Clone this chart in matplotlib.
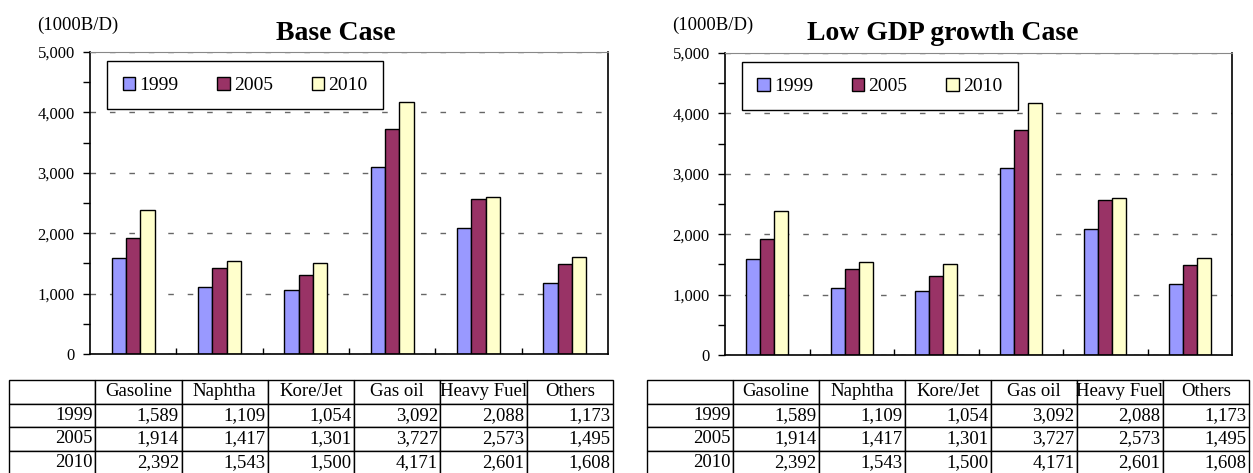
import matplotlib.pyplot as plt
import numpy as np
from matplotlib.ticker import FuncFormatter, MultipleLocator

plt.rcParams['font.family'] = ['Liberation Serif', 'DejaVu Serif']

# Oil product demand (1000 B/D)
products = ['Gasoline', 'Naphtha', 'Kore/Jet', 'Gas oil', 'Heavy Fuel', 'Others']
years = ['1999', '2005', '2010']
base_1999 = [1589, 1109, 1054, 3092, 2088, 1173]
base_2005 = [1914, 1417, 1301, 3727, 2573, 1495]
base_2010 = [2392, 1543, 1500, 4171, 2601, 1608]
lowgdp_1999 = [1589, 1109, 1054, 3092, 2088, 1173]
lowgdp_2005 = [1914, 1417, 1301, 3727, 2573, 1495]
lowgdp_2010 = [2392, 1543, 1500, 4171, 2601, 1608]
bar_colors = ['#9999FF', '#993366', '#FFFFCC']

W, H = 1253, 473


def px_rect(x0, y0, x1, y1):
    return [x0 / W, 1 - y1 / H, (x1 - x0) / W, (y1 - y0) / H]


def draw_case(fig, plot_box, table_box, title, title_x, unit_x, series):
    ax = fig.add_axes(px_rect(*plot_box))
    x = np.arange(len(products)) + 0.5
    w = 1 / 6
    for i, (yr, vals) in enumerate(zip(years, series)):
        ax.bar(x + (i - 1) * w, vals, width=w, color=bar_colors[i],
               edgecolor='black', linewidth=1.0, label=yr, zorder=2)

    ax.set_xlim(0, len(products))
    ax.set_ylim(0, 5000)
    ax.set_axisbelow(True)

    # y axis: labels every 1000, ticks every 500
    ax.yaxis.set_major_locator(MultipleLocator(1000))
    ax.yaxis.set_minor_locator(MultipleLocator(500))
    ax.yaxis.set_major_formatter(FuncFormatter(lambda v, p: f'{int(v):,}'))
    ax.tick_params(axis='y', which='both', direction='out', length=5,
                   width=1, labelsize=12, pad=6)

    # x axis: inward ticks between product groups, no labels
    ax.set_xticks(np.arange(1, len(products)))
    ax.tick_params(axis='x', direction='in', length=4, width=1,
                   labelbottom=False)

    ax.yaxis.grid(True, which='major', color='#666666',
                  linestyle=(0, (4, 10)), linewidth=1.0)
    for side in ['left', 'bottom', 'right']:
        ax.spines[side].set_linewidth(1.2)
    ax.spines['top'].set_color('#888888')

    leg = ax.legend(loc='upper left', bbox_to_anchor=(0.033, 0.97), ncol=3,
                    fontsize=14, frameon=True, fancybox=False, framealpha=1,
                    edgecolor='black', borderpad=0.8, handlelength=0.65,
                    handleheight=0.65, handletextpad=0.2, columnspacing=2.0,
                    borderaxespad=0)
    leg.get_frame().set_linewidth(1.0)

    fig.text(title_x / W, 1 - 33 / H, title, ha='center', va='center',
             fontsize=20, fontweight='bold')
    fig.text(unit_x / W, 1 - 25 / H, '(1000B/D)', ha='left', va='center',
             fontsize=13.5)

    # data table under the chart
    tax = fig.add_axes(px_rect(*table_box))
    tax.axis('off')
    cells = [[''] + products]
    for yr, vals in zip(years, series):
        cells.append([yr] + [f'{v:,}' for v in vals])
    tbl = tax.table(cellText=cells, cellLoc='right', bbox=[0, 0, 1, 1])
    tbl.auto_set_font_size(False)
    tbl.set_fontsize(13.5)
    for (r, c), cell in tbl.get_celld().items():
        cell.set_linewidth(1.0)
        cell.PAD = 0.03
        if r == 0:
            cell._loc = 'center'
            cell.get_text().set_ha('center')
    return ax


fig = plt.figure(figsize=(W / 100, H / 100), dpi=100)

draw_case(fig, (90, 52, 608, 354), (9, 380, 613, 474), 'Base Case', 336, 37,
          [base_1999, base_2005, base_2010])
draw_case(fig, (725, 53, 1232, 355), (647, 380, 1249, 474),
          'Low GDP growth Case', 943, 672,
          [lowgdp_1999, lowgdp_2005, lowgdp_2010])

fig.savefig('out.png', dpi=100)
